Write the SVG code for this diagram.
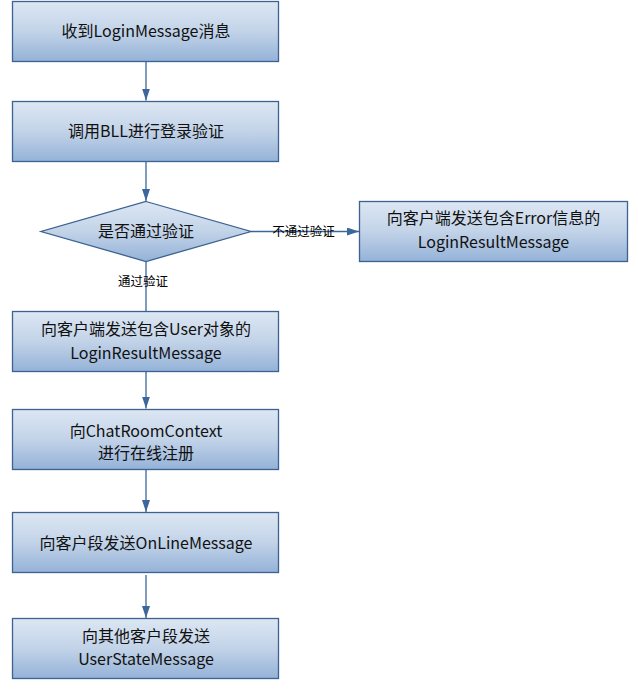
<svg xmlns="http://www.w3.org/2000/svg" width="638" height="689" viewBox="0 0 638 689">
<defs>
<linearGradient id="g" x1="0" y1="0" x2="0" y2="1">
<stop offset="0" stop-color="#dde7f3"/>
<stop offset="0.5" stop-color="#c2d3e8"/>
<stop offset="1" stop-color="#94b2d8"/>
</linearGradient>
<marker id="ah" markerWidth="12" markerHeight="8" refX="12" refY="4" orient="auto" markerUnits="userSpaceOnUse">
<path d="M0,0 L12,4 L0,8 Z" fill="#3b679b"/>
</marker>
</defs>
<style>
.box{fill:url(#g);stroke:#3b6290;stroke-width:1.3}
.t{font-family:"Microsoft YaHei","Noto Sans CJK SC",sans-serif;font-size:16px;fill:#111;text-anchor:middle}
.l{font-family:"Noto Sans CJK SC",sans-serif;font-size:12.5px;fill:#000;text-anchor:middle}
.c{stroke:#3b679b;stroke-width:1.3;fill:none;marker-end:url(#ah)}
</style>
<rect width="638" height="689" fill="#fff"/>
<g id="connectors">
<line class="c" x1="146" y1="62" x2="146" y2="100.5"/>
<line class="c" x1="146" y1="162" x2="146" y2="201"/>
<line class="c" x1="251" y1="231.5" x2="359" y2="231.5"/>
<line x1="146" y1="261.5" x2="146" y2="311" stroke="#3b679b" stroke-width="1.3"/>
<line class="c" x1="146" y1="372" x2="146" y2="408.5"/>
<line class="c" x1="146" y1="470" x2="146" y2="512"/>
<line class="c" x1="146" y1="575" x2="146" y2="618"/>
<text class="l" x="303.5" y="236">不通过验证</text>
<text class="l" x="143" y="286">通过验证</text>
</g>
<g id="n1"><rect class="box" x="12.5" y="1.5" width="266" height="60"/><text class="t" x="146" y="37">收到LoginMessage消息</text></g>
<g id="n2"><rect class="box" x="12.5" y="101.5" width="266" height="60"/><text class="t" x="146" y="137">调用BLL进行登录验证</text></g>
<g id="n3"><path class="box" d="M146,201.5 L251,231.5 L146,261.5 L41,231.5 Z"/><text class="t" x="146" y="237">是否通过验证</text></g>
<g id="n4"><rect class="box" x="359.5" y="201.5" width="268" height="60"/><text class="t" x="493.5" y="224">向客户端发送包含Error信息的</text><text class="t" x="493.5" y="247.5">LoginResultMessage</text></g>
<g id="n5"><rect class="box" x="12.5" y="311.5" width="266" height="60"/><text class="t" x="146" y="335">向客户端发送包含User对象的</text><text class="t" x="146" y="358.5">LoginResultMessage</text></g>
<g id="n6"><rect class="box" x="12.5" y="409.5" width="266" height="60"/><text class="t" x="146" y="436.5">向ChatRoomContext</text><text class="t" x="146" y="458.5">进行在线注册</text></g>
<g id="n7"><rect class="box" x="12.5" y="512.5" width="266" height="60"/><text class="t" x="146" y="548.5">向客户段发送OnLineMessage</text></g>
<g id="n8"><rect class="box" x="12.5" y="618.5" width="266" height="60"/><text class="t" x="146" y="641.5">向其他客户段发送</text><text class="t" x="146" y="664.5">UserStateMessage</text></g>
</svg>
